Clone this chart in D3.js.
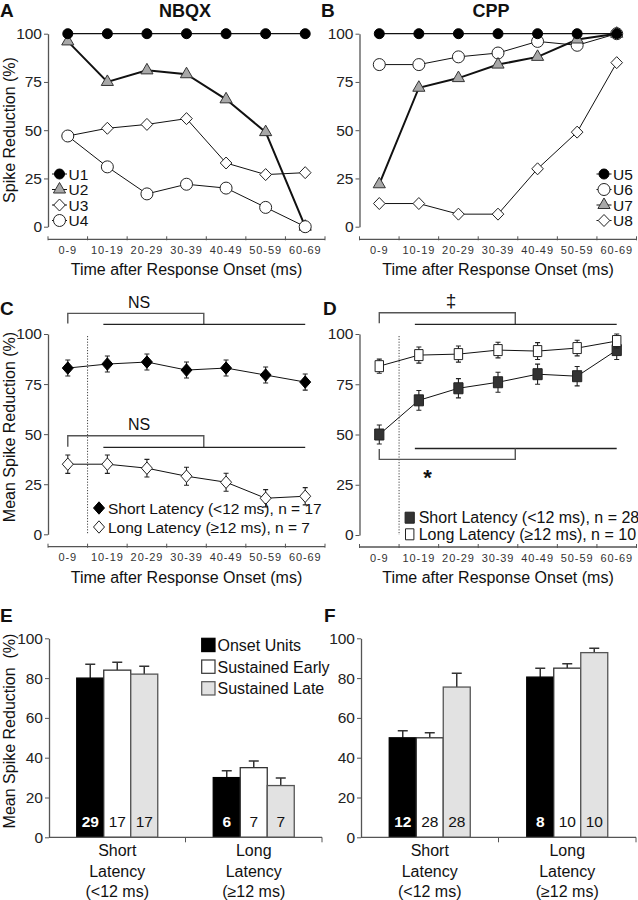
<!DOCTYPE html>
<html><head><meta charset="utf-8">
<script src="https://cdn.jsdelivr.net/npm/d3@7"></script>
<style>body{margin:0;background:#fff}</style>
</head><body>
<script>
// ---------------- DATA ----------------
const timeBins = ["0-9","10-19","20-29","30-39","40-49","50-59","60-69"];
const lineTicks = [0,25,50,75,100];
const barTicks = [0,20,40,60,80,100];

const nbqxU1 = [100,100,100,100,100,100,100];
const nbqxU2 = [96,75,81,79,66,49,0];
const nbqxU3 = [47,51,53,56,33,27,28];
const nbqxU4 = [47,31,17,22,20,10,0];

const cppU5 = [100,100,100,100,100,100,100];
const cppU6 = [84,84,88,90,96,94,100];
const cppU7 = [22,72,77,84,88,97,100];
const cppU8 = [12,12,6.5,6.5,30,49,85];

const nbqxShortMean = [83,85,86,82,83,79.5,76];
const nbqxShortSE   = [4,4,4,4,4,4,4];
const nbqxLongMean  = [35,35,33,29,26,18,19];
const nbqxLongSE    = [4.6,4.6,4.4,4.5,4.5,4.3,4.3];

const cppShortMean = [50,67,73,76,80,79,92];
const cppShortSE   = [4.7,4.9,4.8,5,5,4.8,4.7];
const cppLongMean  = [84,89.5,90,92,91.5,93,96.5];
const cppLongSE    = [3.5,4,4,3.9,4.2,3.9,3.5];

const latencyGroups = ["Short","Long"];
const groupLabels = [["Short","Latency","(<12 ms)"],["Long","Latency","(≥12 ms)"]];
const unitTypes = ["Onset Units","Sustained Early","Sustained Late"];
const nbqxBarMean = [[80,84,82],[30,35,26]];
const nbqxBarSE   = [[7,4,4],[3.5,3.4,3.8]];
const nbqxBarN    = [[29,17,17],[6,7,7]];
const cppBarMean  = [[50,50,75.5],[80.5,85,92.8]];
const cppBarSE    = [[3.5,2.5,7],[4.5,2.2,2.2]];
const cppBarN     = [[12,28,28],[8,10,10]];

// ---------------- SETUP ----------------
const svg = d3.select("body").append("svg").attr("width",638).attr("height",900)
  .attr("font-family","'Liberation Sans', Arial, Helvetica, sans-serif");
const AX = "#555";

function diamondType(w,h){ return {draw(c){ c.moveTo(0,-h); c.lineTo(w,0); c.lineTo(0,h); c.lineTo(-w,0); c.closePath(); }}; }
function rectType(w,h){ return {draw(c){ c.moveTo(-w,-h); c.lineTo(w,-h); c.lineTo(w,h); c.lineTo(-w,h); c.closePath(); }}; }
const SYM = {
  dot:  {d:d3.symbol(d3.symbolCircle, Math.PI*25)(), fill:"#000", stroke:"#000"},
  ring: {d:d3.symbol(d3.symbolCircle, Math.PI*36)(), fill:"#fff", stroke:"#222"},
  tri:  {d:d3.symbol(d3.symbolTriangle, 64)(), fill:"#a8a8a8", stroke:"#333"},
  dia:  {d:d3.symbol(diamondType(5.8,6))(), fill:"#fff", stroke:"#222"},
  diaF: {d:d3.symbol(diamondType(5.5,6.2))(), fill:"#000", stroke:"#000"},
  diaO: {d:d3.symbol(diamondType(5.5,6.2))(), fill:"#fff", stroke:"#222"},
  sqF:  {d:d3.symbol(rectType(4.6,5.5))(), fill:"#333", stroke:"#222"},
  sqO:  {d:d3.symbol(rectType(4.2,5.5))(), fill:"#fff", stroke:"#222"}
};

function styleYAxis(a){
  a.select(".domain").attr("stroke",AX).attr("stroke-width",1.3);
  a.selectAll(".tick line").attr("stroke",AX);
  a.selectAll(".tick text").attr("font-size",15.5).attr("fill","#222").attr("font-family",null);
}

function txt(g,x,y,s,o={}){
  const t = g.append("text").attr("x",x).attr("y",y).text(s)
    .attr("font-size",o.size||16).attr("fill",o.fill||"#111")
    .attr("text-anchor",o.anchor||"start");
  if(o.bold) t.attr("font-weight","bold");
  return t;
}

function linePanel(o){
  const x = d3.scaleBand().domain(timeBins).range([o.left,o.right]);
  const y = d3.scaleLinear().domain([0,100]).range([o.bottom,o.top]);
  const g = svg.append("g");
  const ya = g.append("g").attr("transform",`translate(${o.left},0)`)
    .call(d3.axisLeft(y).tickValues(lineTicks).tickSize(4).tickSizeOuter(0).tickPadding(2));
  styleYAxis(ya);
  const xa = g.append("g").attr("transform",`translate(0,${o.xAxisY})`)
    .call(d3.axisBottom(x).tickSize(0).tickPadding(7));
  xa.select(".domain").remove();
  xa.selectAll("text").attr("font-size",11).attr("letter-spacing","0.9px").attr("fill","#333").attr("font-family",null);
  g.append("line").attr("x1",o.left).attr("x2",o.right).attr("y1",o.xAxisY).attr("y2",o.xAxisY)
    .attr("stroke",AX).attr("stroke-width",1.3);
  g.selectAll(".bt").data(timeBins.map(c=>x(c)).concat([o.right])).join("line")
    .attr("x1",d=>d).attr("x2",d=>d).attr("y1",o.xAxisY-3).attr("y2",o.xAxisY+1).attr("stroke",AX);
  txt(g,(o.left+o.right)/2,o.xAxisY+36,"Time after Response Onset (ms)",{anchor:"middle",size:16});
  return {x,y,g,bw:x.bandwidth()};
}

function series(p, vals, key, lw, se){
  const pts = vals.map((v,i)=>[p.x(timeBins[i])+p.bw/2, p.y(v)]);
  p.g.append("path").attr("d",d3.line()(pts)).attr("fill","none").attr("stroke","#111").attr("stroke-width",lw);
  if(se){
    vals.forEach((v,i)=>{
      const cx = pts[i][0], y1 = p.y(v-se[i]), y2 = p.y(v+se[i]);
      p.g.append("path").attr("d",`M${cx},${y1}V${y2}M${cx-2.5},${y1}H${cx+2.5}M${cx-2.5},${y2}H${cx+2.5}`)
        .attr("stroke","#222").attr("stroke-width",1.1).attr("fill","none");
    });
  }
  const s = SYM[key];
  p.g.selectAll(null).data(pts).join("path").attr("d",s.d)
    .attr("transform",d=>`translate(${d[0]},${d[1]})`)
    .attr("fill",s.fill).attr("stroke",s.stroke).attr("stroke-width",1);
}

function legendRow(g,x,y,key,label,withLine,size){
  if(withLine) g.append("line").attr("x1",x-7.5).attr("x2",x+7.5).attr("y1",y).attr("y2",y).attr("stroke","#111");
  const s = SYM[key];
  g.append("path").attr("d",s.d).attr("transform",`translate(${x},${y})`)
    .attr("fill",s.fill).attr("stroke",s.stroke);
  txt(g,x+9,y+5.5,label,{size:size||15.5});
}

// ---------------- A ----------------
const pA = linePanel({left:48,right:325,top:33.7,bottom:226.7,xAxisY:239.3});
series(pA,nbqxU3,"dia",1);
series(pA,nbqxU2,"tri",2);
series(pA,nbqxU4,"ring",1);
series(pA,nbqxU1,"dot",1.2);
txt(svg,0,17,"A",{bold:true,size:19});
txt(svg,185,17,"NBQX",{bold:true,size:18,anchor:"middle"});
svg.append("text").attr("transform","translate(15,130) rotate(-90)").attr("text-anchor","middle")
  .attr("font-size",16).attr("fill","#111").text("Spike Reduction (%)");
[["dot","U1"],["tri","U2"],["dia","U3"],["ring","U4"]].forEach((d,i)=>legendRow(pA.g,59.5,174+i*15.5,d[0],d[1],true));

// ---------------- B ----------------
const pB = linePanel({left:359.5,right:636.5,top:33.7,bottom:226.7,xAxisY:239.3});
series(pB,cppU8,"dia",1);
series(pB,cppU6,"ring",1);
series(pB,cppU7,"tri",2);
series(pB,cppU5,"dot",1.2);
txt(svg,321,17,"B",{bold:true,size:19});
txt(svg,491,17,"CPP",{bold:true,size:18,anchor:"middle"});
[["dot","U5"],["ring","U6"],["tri","U7"],["dia","U8"]].forEach((d,i)=>legendRow(pB.g,604,174+i*15.5,d[0],d[1],true));

// ---------------- C ----------------
const pC = linePanel({left:48,right:325,top:334,bottom:534.3,xAxisY:546.7});
function dotted(p){
  const xx = p.x(timeBins[1]);
  p.g.append("line").attr("x1",xx).attr("x2",xx).attr("y1",p.y(99)).attr("y2",p.y(0))
    .attr("stroke","#444").attr("stroke-width",1).attr("stroke-dasharray","1.2,1.6");
}
dotted(pC);
function bracketTop(p, yHi, yLo, yLine, label, lab, labelY, labelX, labSize, labBold){
  const xl = p.x(timeBins[0])+p.bw/2, xj = p.x(timeBins[4])-2.5;
  const xs = p.x(timeBins[1])+p.bw/2-4, xe = p.x(timeBins[6])+p.bw/2;
  p.g.append("path").attr("d",`M${xl},${p.y(yLo)}V${p.y(yHi)}H${xj}V${p.y(yLine)}`)
    .attr("fill","none").attr("stroke",AX).attr("stroke-width",1.4);
  p.g.append("line").attr("x1",xs).attr("x2",xe).attr("y1",p.y(yLine)).attr("y2",p.y(yLine))
    .attr("stroke","#222").attr("stroke-width",1.4);
  txt(p.g,labelX,p.y(labelY),label,{anchor:"middle",size:labSize||16,bold:labBold});
}
bracketTop(pC,110.3,105.3,104.8,"NS",0,112.8,139,16);
bracketTop(pC,49.2,43.7,43.4,"NS",0,52.1,139,16);
series(pC,nbqxShortMean,"diaF",1,nbqxShortSE);
series(pC,nbqxLongMean,"diaO",1,nbqxLongSE);
txt(svg,0,315,"C",{bold:true,size:19});
svg.append("text").attr("transform","translate(15,427) rotate(-90)").attr("text-anchor","middle")
  .attr("font-size",16).attr("fill","#111").text("Mean Spike Reduction (%)");
legendRow(pC.g,99,508,"diaF","Short Latency (<12 ms), n = 17",false,15.5);
legendRow(pC.g,99,527,"diaO","Long Latency (≥12 ms), n = 7",false,15.5);

// ---------------- D ----------------
const pD = linePanel({left:359.5,right:636.5,top:334,bottom:535,xAxisY:547});
dotted(pD);
bracketTop(pD,110.6,105.3,104.8,"‡",0,113.5,451,19);
// lower bracket (inverted)
(function(){
  const p = pD;
  const xl = p.x(timeBins[0])+p.bw/2, xj = p.x(timeBins[4])-2.5;
  const xs = p.x(timeBins[1])+p.bw/2-4, xe = p.x(timeBins[6])+p.bw/2;
  p.g.append("line").attr("x1",xs).attr("x2",xe).attr("y1",p.y(43)).attr("y2",p.y(43))
    .attr("stroke","#222").attr("stroke-width",1.4);
  p.g.append("path").attr("d",`M${xl},${p.y(42.8)}V${p.y(37.6)}H${xj}V${p.y(43)}`)
    .attr("fill","none").attr("stroke",AX).attr("stroke-width",1.4);
  txt(p.g,p.x(timeBins[2])-11,p.y(25),"*",{anchor:"middle",size:22,bold:true});
})();
series(pD,cppShortMean,"sqF",1,cppShortSE);
series(pD,cppLongMean,"sqO",1,cppLongSE);
txt(svg,323,315,"D",{bold:true,size:19});
legendRow(pD.g,409.7,517.7,"sqF","Short Latency (<12 ms), n = 28",false,16);
legendRow(pD.g,409.7,534.3,"sqO","Long Latency (≥12 ms), n = 10",false,16);

// ---------------- E / F bars ----------------
const barFill = ["#000","#fff","#e2e2e2"];
const barStroke = ["#000","#333","#555"];
function barPanel(o, means, ses, ns){
  const x0 = d3.scaleBand().domain(latencyGroups).range([o.left,o.right]);
  const x1 = d3.scaleBand().domain(unitTypes).range([0,81]);
  const y = d3.scaleLinear().domain([0,100]).range([837.3,638.3]);
  const g = svg.append("g");
  const off = (x0.bandwidth()-81)/2;
  latencyGroups.forEach((grp,gi)=>{
    unitTypes.forEach((u,si)=>{
      const bx = x0(grp)+off+x1(u), bw = x1.bandwidth(), v = means[gi][si];
      const cx = bx+bw/2, yt = y(v), ye = y(v+ses[gi][si]);
      g.append("path").attr("d",`M${cx},${yt}V${ye}M${cx-5},${ye}H${cx+5}`)
        .attr("stroke","#333").attr("stroke-width",1.5).attr("fill","none");
      g.append("rect").attr("x",bx).attr("y",yt).attr("width",bw).attr("height",y(0)-yt)
        .attr("fill",barFill[si]).attr("stroke",barStroke[si]).attr("stroke-width",1.3);
      txt(g,cx,y(0)-10.5,String(ns[gi][si]),{anchor:"middle",size:15.5,
        fill: si===0?"#fff":"#111", bold: si===0});
    });
    groupLabels[gi].forEach((l,li)=>txt(g,x0(grp)+x0.bandwidth()/2,856+li*20.5,l,{anchor:"middle",size:16}));
  });
  const ya = g.append("g").attr("transform",`translate(${o.left},0)`)
    .call(d3.axisLeft(y).tickValues(barTicks).tickSize(4).tickSizeOuter(0).tickPadding(2));
  styleYAxis(ya);
  g.append("line").attr("x1",o.left).attr("x2",o.right).attr("y1",y(0)).attr("y2",y(0))
    .attr("stroke",AX).attr("stroke-width",1.3);
  g.selectAll(".bt").data([x0(latencyGroups[1]), o.right]).join("line")
    .attr("x1",d=>d).attr("x2",d=>d).attr("y1",y(0)).attr("y2",y(0)+5).attr("stroke",AX);
  return {g,y};
}
const pE = barPanel({left:49,right:322},nbqxBarMean,nbqxBarSE,nbqxBarN);
txt(svg,0,621.5,"E",{bold:true,size:19});
svg.append("text").attr("transform","translate(15,731) rotate(-90)").attr("text-anchor","middle")
  .attr("font-size",16).attr("fill","#111").style("white-space","pre").text("Mean Spike Reduction  (%)");
unitTypes.forEach((u,i)=>{
  const cy = 645+i*21.7;
  pE.g.append("rect").attr("x",201.7).attr("y",cy-6.7).attr("width",13.3).attr("height",13.3)
    .attr("fill",barFill[i]).attr("stroke",barStroke[i]).attr("stroke-width",1.2);
  txt(pE.g,217.5,cy+6,u,{size:16});
});

const pF = barPanel({left:361,right:636},cppBarMean,cppBarSE,cppBarN);
txt(svg,324,621.5,"F",{bold:true,size:19});
</script>
</body></html>
